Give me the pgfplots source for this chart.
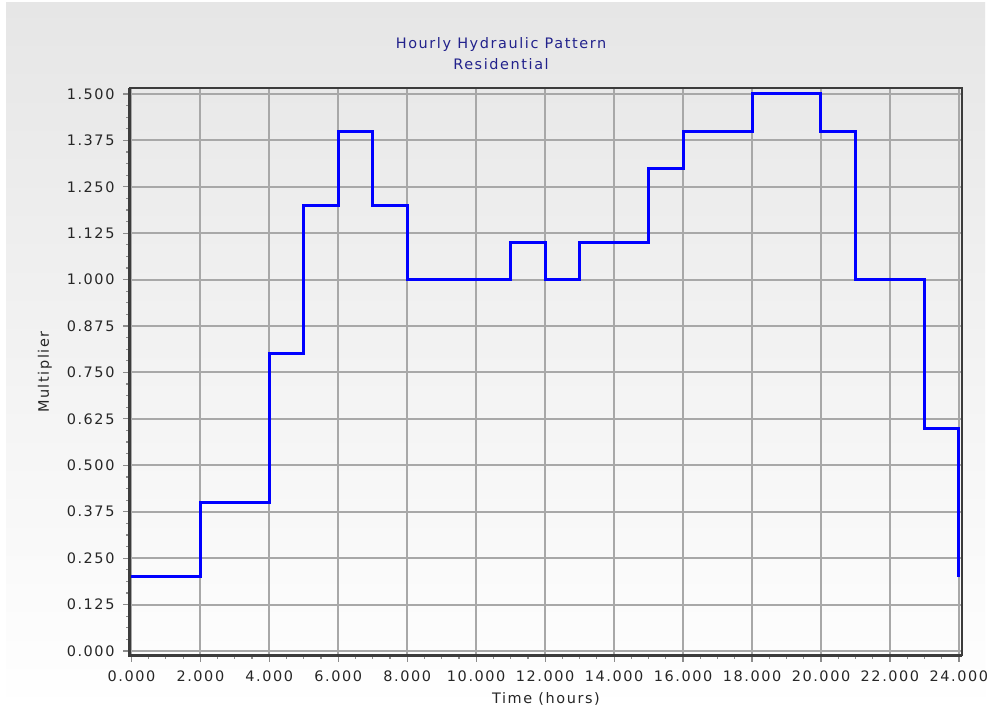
\documentclass[border=0pt]{standalone}
\usepackage{fontspec}
\setmainfont[LetterSpace=11]{DejaVu Sans}
\usepackage{pgfplots}
\pgfplotsset{compat=1.18}
\definecolor{gridgray}{HTML}{A8A8A8}
\definecolor{titleblue}{HTML}{22228C}
\definecolor{framedark}{HTML}{3C3C3C}
\definecolor{bgtop}{HTML}{E6E6E6}
\definecolor{tickgray}{HTML}{8C8C8C}
\pgfplotstableread{
x y
0 0.2
1 0.2
2 0.4
3 0.4
4 0.8
5 1.2
6 1.4
7 1.2
8 1.0
9 1.0
10 1.0
11 1.1
12 1.0
13 1.1
14 1.1
15 1.3
16 1.4
17 1.4
18 1.5
19 1.5
20 1.4
21 1.0
22 1.0
23 0.6
24 0.2
}\pattern
\begin{document}
\begin{tikzpicture}[x=1bp,y=1bp]
\useasboundingbox (0,0) rectangle (989,714);
\fill[white] (0,0) rectangle (989,714);
\shade[top color=bgtop, bottom color=white] (6,3) rectangle (985,711);
\begin{axis}[
  at={(129bp,58bp)}, anchor=south west,
  scale only axis, width=833bp, height=568bp,
  xmin=-0.07, xmax=24.09, ymin=-0.0135, ymax=1.516,
  clip=false,
  axis line style={draw=none},
  xtick={0,2,...,24},
  ytick={0,0.125,...,1.5},
  minor x tick num=3,
  minor y tick num=3,
  tick align=outside,
  major tick length=6bp, minor tick length=3bp,
  every tick/.style={tickgray, line width=1.2bp},
  grid=major,
  major grid style={gridgray, line width=2bp},
  minor grid style={draw=none},
  xtick pos=bottom, ytick pos=left,
  /pgf/number format/assume math mode=true,
  /pgf/number format/.cd, fixed, fixed zerofill, precision=3, 1000 sep={},
  /pgfplots/.cd,
  ticklabel style={font=\fontsize{14.5}{16}\selectfont, text=black!85},
  yticklabel style={xshift=-5bp},
  xticklabel style={yshift=-5bp},
]
\addplot[const plot, blue, line width=3bp] table[x=x, y=y] {\pattern};
\draw[framedark, line width=2bp] (rel axis cs:0,1) -- (rel axis cs:1,1) -- (rel axis cs:1,0);
\draw[framedark, line width=3bp] (rel axis cs:0,1) -- (rel axis cs:0,0) -- (rel axis cs:1,0);
\end{axis}
\node[text=titleblue, font=\fontsize{14.5}{16}\selectfont] at (501,669) {Hourly Hydraulic Pattern};
\node[text=titleblue, font=\fontsize{14.5}{16}\selectfont] at (501,649.5) {Residential};
\node[text=black!85, font=\fontsize{14.5}{16}\selectfont] at (546,15) {Time (hours)};
\node[text=black!85, font=\fontsize{14.5}{16}\selectfont, rotate=90] at (45,342) {Multiplier};
\end{tikzpicture}
\end{document}
